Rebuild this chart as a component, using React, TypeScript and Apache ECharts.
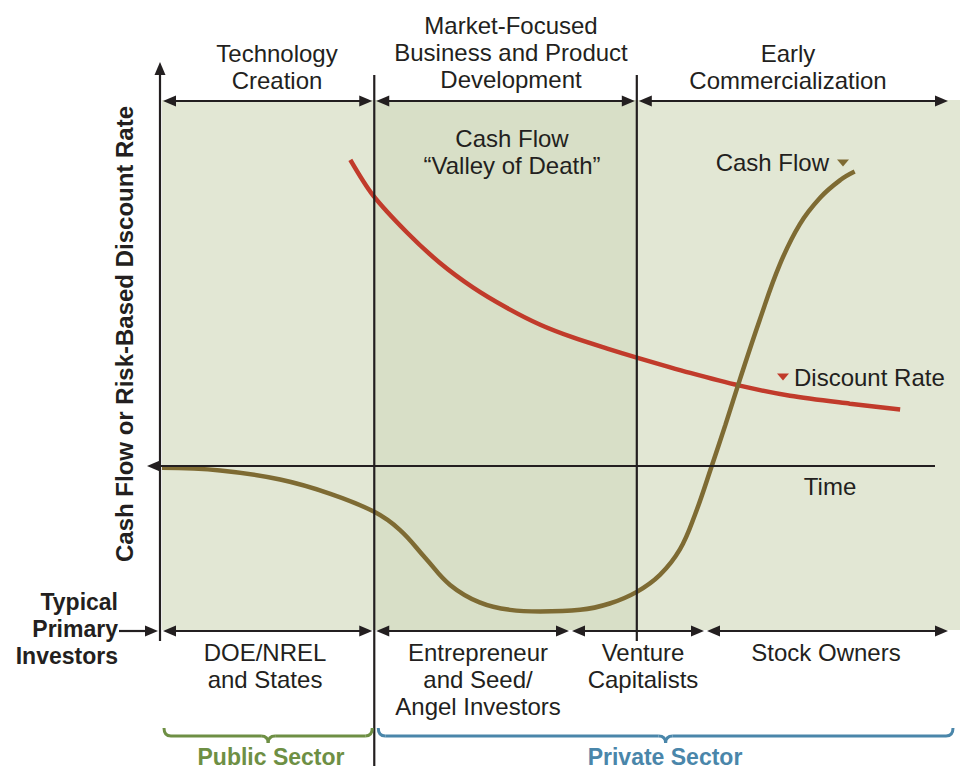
import React, { useEffect, useRef } from "react";
import * as echarts from "echarts";

// ---- data (time units 0..100, value units -31..69) ----
const discountRateX = [23.6, 26.4, 30.7, 34.8, 39.0, 43.2, 47.4, 51.5, 55.8, 59.5, 66.2, 72.4, 78.7, 86.2, 92.5];
const discountRateY = [57.7, 51.1, 44.0, 38.3, 33.6, 29.8, 26.6, 24.2, 22.1, 20.4, 17.5, 15.1, 13.2, 11.7, 10.6];

const cashFlowX = [0, 7.3, 14.8, 21.1, 26.6, 29.8, 33.0, 36.1, 39.8, 43.6, 47.4, 52.4, 56.1, 59.5, 62.4, 64.9, 66.8, 68.9, 70.6, 72.4, 74.9, 77.4, 79.9, 82.5, 85.0, 86.8];
const cashFlowY = [-0.4, -0.9, -2.6, -5.3, -8.7, -12.1, -17.4, -22.5, -25.8, -27.2, -27.5, -27.2, -26.0, -23.8, -20.6, -15.8, -9.2, 0, 7.7, 16.2, 27.5, 37.9, 45.5, 50.6, 53.9, 55.5];

const phaseBounds = [0, 26.6, 59.5, 100];
const phaseLabels = ["Technology\nCreation", "Market-Focused\nBusiness and Product\nDevelopment", "Early\nCommercialization"];
const investorLabels = ["DOE/NREL\nand States", "Entrepreneur\nand Seed/\nAngel Investors", "Venture\nCapitalists", "Stock Owners"];
const sectorLabels = ["Public Sector", "Private Sector"];

const X_MIN = 0, X_MAX = 100, Y_MIN = -31, Y_MAX = 69;
const G_LEFT = 162, G_TOP = 100, G_W = 798, G_H = 530;

const FONT = "'Liberation Sans', Arial, Helvetica, sans-serif";
const INK = "#231f20";
const OLIVE = "#7e6b33";
const RED = "#c13b2b";
const GREEN = "#6e8f44";
const BLUE = "#4a86aa";

function arrow(x1: number, y1: number, x2: number, y2: number, startHead: boolean, endHead: boolean, color = INK) {
  const els: any[] = [];
  const dx = x2 - x1, dy = y2 - y1;
  const len = Math.sqrt(dx * dx + dy * dy);
  const ux = dx / len, uy = dy / len;
  const hl = 13, hw = 5.5;
  const sx = startHead ? x1 + ux * (hl - 2) : x1;
  const sy = startHead ? y1 + uy * (hl - 2) : y1;
  const ex = endHead ? x2 - ux * (hl - 2) : x2;
  const ey = endHead ? y2 - uy * (hl - 2) : y2;
  els.push({ type: "line", shape: { x1: sx, y1: sy, x2: ex, y2: ey }, style: { stroke: color, lineWidth: 2.2 }, z: 10 });
  const head = (tx: number, ty: number, vx: number, vy: number) => {
    const bx = tx - vx * hl, by = ty - vy * hl;
    return {
      type: "polygon",
      shape: { points: [[tx, ty], [bx - vy * hw, by + vx * hw], [bx + vy * hw, by - vx * hw]] },
      style: { fill: color },
      z: 10,
    };
  };
  if (startHead) els.push(head(x1, y1, -ux, -uy));
  if (endHead) els.push(head(x2, y2, ux, uy));
  return els;
}

function brace(x1: number, x2: number, y: number, color: string) {
  const xc = (x1 + x2) / 2;
  const st = { stroke: color, lineWidth: 3, fill: null as any };
  return [
    { type: "bezierCurve", shape: { x1: x1, y1: y - 8, cpx1: x1, cpy1: y, x2: x1 + 7, y2: y }, style: st, z: 10 },
    { type: "line", shape: { x1: x1 + 7, y1: y, x2: xc - 7, y2: y }, style: st, z: 10 },
    { type: "bezierCurve", shape: { x1: xc - 7, y1: y, cpx1: xc, cpy1: y, x2: xc, y2: y + 7 }, style: st, z: 10 },
    { type: "bezierCurve", shape: { x1: xc + 7, y1: y, cpx1: xc, cpy1: y, x2: xc, y2: y + 7 }, style: st, z: 10 },
    { type: "line", shape: { x1: xc + 7, y1: y, x2: x2 - 7, y2: y }, style: st, z: 10 },
    { type: "bezierCurve", shape: { x1: x2 - 7, y1: y, cpx1: x2, cpy1: y, x2: x2, y2: y - 8 }, style: st, z: 10 },
  ];
}

function text(t: string, x: number, y: number, opts: any = {}) {
  const align = opts.align || "center";
  return {
    type: "text",
    x,
    y,
    rotation: opts.rotation || 0,
    z: 20,
    style: {
      text: t,
      x: 0,
      y: 0,
      fill: opts.color || INK,
      fontSize: opts.size || 24,
      fontWeight: opts.bold ? "bold" : "normal",
      fontFamily: FONT,
      lineHeight: opts.lineHeight || 27,
      align,
      textAlign: align,
      verticalAlign: "middle",
      textVerticalAlign: "middle",
    },
  };
}

function tri(cx: number, cy: number, color: string) {
  return {
    type: "polygon",
    shape: { points: [[cx - 6, cy - 3.5], [cx + 6, cy - 3.5], [cx, cy + 3.5]] },
    style: { fill: color },
    z: 20,
  };
}

export default function App() {
  const ref = useRef<HTMLDivElement>(null);
  useEffect(() => {
    document.body.style.margin = "0";
    if (!ref.current) return;
    const chart = echarts.init(ref.current, null, { renderer: "svg" });
    const px = (x: number) => G_LEFT + ((x - X_MIN) / (X_MAX - X_MIN)) * G_W;
    const b1 = px(phaseBounds[1]);
    const b2 = px(phaseBounds[2]);

    const graphics: any[] = [];
    // y axis
    graphics.push(...arrow(160, 641, 160, 62, false, true));
    // time axis
    graphics.push(...arrow(935, 466, 147, 466, false, true));
    // phase dividers
    graphics.push({ type: "line", shape: { x1: b1, y1: 75, x2: b1, y2: 766 }, style: { stroke: INK, lineWidth: 2.2 }, z: 10 });
    graphics.push({ type: "line", shape: { x1: b2, y1: 75, x2: b2, y2: 641 }, style: { stroke: INK, lineWidth: 2.2 }, z: 10 });
    // top phase arrows
    graphics.push(...arrow(163, 101, b1 - 2, 101, true, true));
    graphics.push(...arrow(b1 + 2, 101, b2 - 2, 101, true, true));
    graphics.push(...arrow(b2 + 2, 101, 948, 101, true, true));
    // bottom investor arrows
    graphics.push(...arrow(163, 631, b1 - 2, 631, true, true));
    graphics.push(...arrow(b1 + 2, 631, 569, 631, true, true));
    graphics.push(...arrow(572, 631, 704, 631, true, true));
    graphics.push(...arrow(707, 631, 948, 631, true, true));
    graphics.push(...arrow(119, 631, 158, 631, false, true));
    // braces
    graphics.push(...brace(164, b1 - 2, 736, GREEN));
    graphics.push(...brace(b1 + 4, 953, 736, BLUE));

    // texts
    graphics.push(text(phaseLabels[0], 277, 66.5));
    graphics.push(text(phaseLabels[1], 511, 52.5));
    graphics.push(text(phaseLabels[2], 788, 66.5));
    graphics.push(text("Cash Flow\n\u201cValley of Death\u201d", 512, 151.5));
    graphics.push(text("Cash Flow", 829, 162, { align: "right" }));
    graphics.push(tri(843, 163, OLIVE));
    graphics.push(text("Discount Rate", 794, 377, { align: "left" }));
    graphics.push(tri(783, 377, RED));
    graphics.push(text("Time", 830, 486));
    graphics.push(text(investorLabels[0], 265, 665.5));
    graphics.push(text(investorLabels[1], 478, 679));
    graphics.push(text(investorLabels[2], 643, 665.5));
    graphics.push(text(investorLabels[3], 826, 652));
    graphics.push(text("Typical\nPrimary\nInvestors", 118, 629, { align: "right", bold: true, size: 23 }));
    graphics.push(text(sectorLabels[0], 271, 757, { bold: true, size: 23, color: GREEN }));
    graphics.push(text(sectorLabels[1], 665, 757, { bold: true, size: 23, color: BLUE }));
    graphics.push(text("Cash Flow or Risk-Based Discount Rate", 124, 334, { bold: true, size: 24, rotation: Math.PI / 2 }));

    const option: any = {
      animation: false,
      backgroundColor: "#ffffff",
      grid: { left: G_LEFT, top: G_TOP, width: G_W, height: G_H, show: false },
      xAxis: { type: "value", min: X_MIN, max: X_MAX, show: false },
      yAxis: { type: "value", min: Y_MIN, max: Y_MAX, show: false },
      series: [
        {
          type: "line",
          name: "Discount Rate",
          data: discountRateX.map((x, i) => [x, discountRateY[i]]),
          smooth: 0.3,
          showSymbol: false,
          lineStyle: { color: RED, width: 4.5, cap: "butt" },
          z: 5,
          markArea: {
            silent: true,
            data: [
              [{ xAxis: phaseBounds[0], yAxis: Y_MIN, itemStyle: { color: "#e2e7d4" } }, { xAxis: phaseBounds[1], yAxis: Y_MAX }],
              [{ xAxis: phaseBounds[1], yAxis: Y_MIN, itemStyle: { color: "#d8dfc7" } }, { xAxis: phaseBounds[2], yAxis: Y_MAX }],
              [{ xAxis: phaseBounds[2], yAxis: Y_MIN, itemStyle: { color: "#e2e7d4" } }, { xAxis: phaseBounds[3], yAxis: Y_MAX }],
            ],
          },
        },
        {
          type: "line",
          name: "Cash Flow",
          data: cashFlowX.map((x, i) => [x, cashFlowY[i]]),
          smooth: 0.4,
          showSymbol: false,
          lineStyle: { color: OLIVE, width: 4.5, cap: "butt" },
          z: 6,
        },
      ],
      graphic: graphics,
    };
    chart.setOption(option);
    return () => chart.dispose();
  }, []);
  return <div ref={ref} style={{ width: 962, height: 769 }} />;
}
